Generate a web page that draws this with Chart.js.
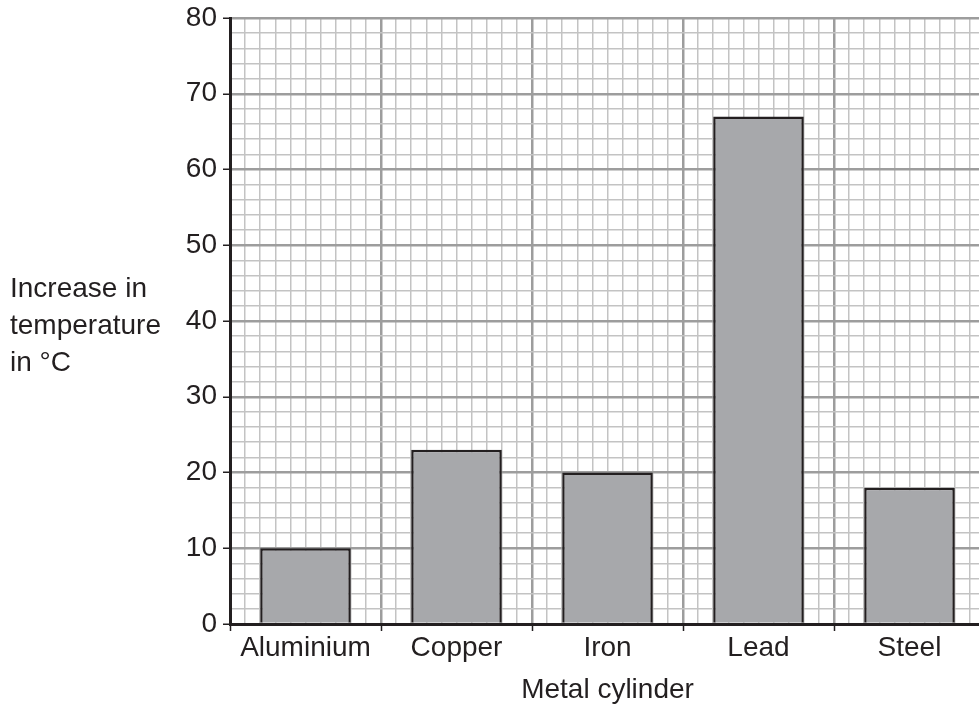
<!DOCTYPE html>
<html>
<head>
<meta charset="utf-8">
<title>Increase in temperature by metal cylinder</title>
<script src="https://cdn.jsdelivr.net/npm/chart.js@4/dist/chart.umd.min.js"></script>
<style>
  html, body { margin: 0; padding: 0; background: #ffffff; overflow: hidden; }
  #wrap { width: 985px; height: 704px; }
</style>
</head>
<body>
<div id="wrap"><canvas id="chart" width="985" height="704"></canvas></div>
<script>
// Data
const categories = ['Aluminium', 'Copper', 'Iron', 'Lead', 'Steel'];
const temperatureIncrease = [10, 23, 20, 67, 18];
const yTitleLines = ['Increase in', 'temperature', 'in °C'];
const xTitle = 'Metal cylinder';

// Graph paper styling
const INK = '#231f20';
const MAJOR_GRID = '#9d9d9d';
const MINOR_GRID = '#c3c3c3';
const FONT_FAMILY = '"Liberation Sans", Arial, Helvetica, sans-serif';
const FONT_SIZE = 28;

const isMajor = c => !!(c && c.tick && c.tick.value % 10 === 0);

// Horizontal label for the value axis, drawn to the left of the tick labels
const yTitlePlugin = {
  id: 'yTitle',
  afterDraw(chart) {
    const ctx = chart.ctx;
    ctx.save();
    ctx.font = FONT_SIZE + 'px ' + FONT_FAMILY;
    ctx.fillStyle = INK;
    ctx.textAlign = 'left';
    ctx.textBaseline = 'alphabetic';
    const base = 297, step = 37;
    yTitleLines.forEach((line, i) => ctx.fillText(line, 10, base + i * step));
    ctx.restore();
  }
};

new Chart(document.getElementById('chart'), {
  type: 'bar',
  data: {
    labels: categories,
    datasets: [{
      data: temperatureIncrease,
      xAxisID: 'x',
      yAxisID: 'y',
      backgroundColor: '#a7a8ab',
      borderColor: INK,
      borderWidth: 2.5,
      barPercentage: 0.6,
      categoryPercentage: 1.0
    }]
  },
  options: {
    responsive: false,
    animation: false,
    devicePixelRatio: 1,
    layout: { autoPadding: false, padding: { top: 18, left: 0, right: 0, bottom: 0 } },
    plugins: { legend: { display: false }, tooltip: { enabled: false } },
    scales: {
      // fine vertical rulings: ten per category
      xg: {
        type: 'linear',
        position: 'top',
        min: 0,
        max: 50,
        offset: false,
        ticks: { display: false, stepSize: 1, autoSkip: false },
        border: { display: false },
        grid: {
          offset: false,
          drawTicks: false,
          color: c => (isMajor(c) ? MAJOR_GRID : MINOR_GRID),
          lineWidth: c => (isMajor(c) ? 2.5 : 1.5)
        },
        afterFit: s => { s.height = 0; }
      },
      x: {
        type: 'category',
        position: 'bottom',
        z: 1,
        offset: true,
        border: { display: true, color: INK, width: 3 },
        grid: {
          offset: true,
          drawOnChartArea: false,
          drawTicks: true,
          tickLength: 7,
          tickColor: INK,
          tickWidth: 1.5
        },
        ticks: {
          color: INK,
          font: { family: FONT_FAMILY, size: FONT_SIZE },
          padding: 0,
          maxRotation: 0,
          autoSkip: false
        },
        title: {
          display: true,
          text: xTitle,
          color: INK,
          font: { family: FONT_FAMILY, size: FONT_SIZE, lineHeight: 1 },
          padding: { top: 0, bottom: 0 }
        },
        afterFit: s => { s.height = 80; }
      },
      y: {
        type: 'linear',
        position: 'left',
        min: 0,
        max: 80,
        border: { display: true, color: INK, width: 3 },
        grid: {
          color: c => (isMajor(c) ? MAJOR_GRID : MINOR_GRID),
          lineWidth: c => (isMajor(c) ? 2.5 : 1.5),
          tickLength: 7,
          tickColor: c => (isMajor(c) ? INK : 'rgba(0,0,0,0)'),
          tickWidth: 1.5
        },
        ticks: {
          stepSize: 2,
          autoSkip: false,
          color: INK,
          padding: 6,
          font: { family: FONT_FAMILY, size: FONT_SIZE },
          callback: v => (v % 10 === 0 ? String(v) : '')
        },
        afterFit: s => {
          s.width = 230;
          s.paddingTop = 0;
          s.paddingBottom = 0;
        }
      }
    }
  },
  plugins: [yTitlePlugin]
});
</script>
</body>
</html>
